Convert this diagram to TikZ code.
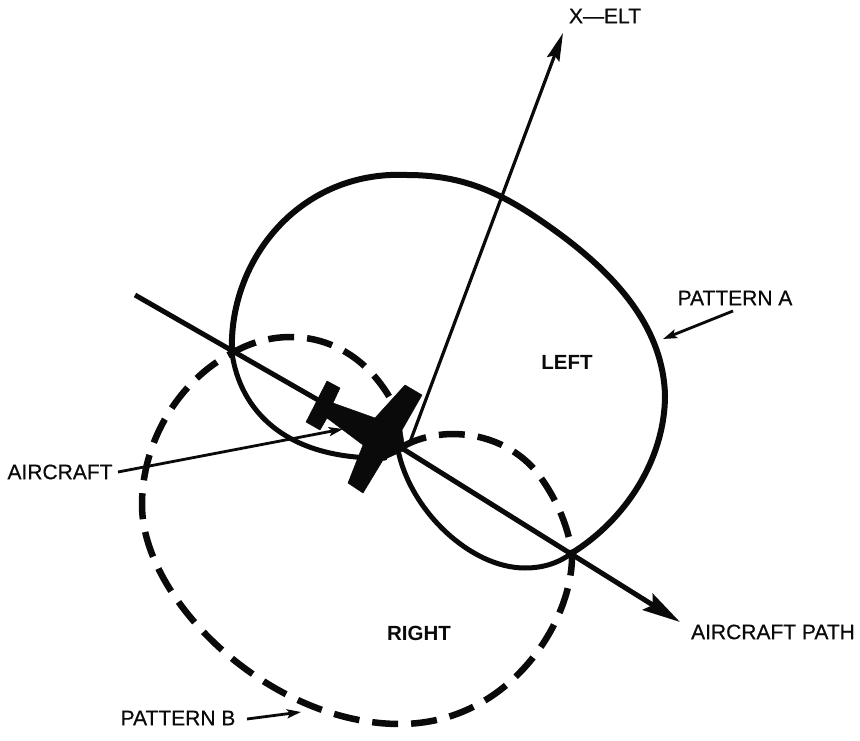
\documentclass[tikz,border=0pt]{standalone}
\usepackage{fontspec}
\setmainfont{Liberation Sans}
\newfontfamily\lblfont[AutoFakeBold=0.5]{Liberation Sans}
\usetikzlibrary{arrows.meta}
\definecolor{mInk}{HTML}{0A0A0A}
\tikzset{
 lbl/.style={font=\lblfont\bfseries\fontsize{21}{24}\selectfont, text=mInk, inner sep=0pt},
 lblb/.style={font=\fontsize{20.5}{24}\selectfont\bfseries, text=mInk, inner sep=0pt},
 pattA/.style={draw=mInk, line width=6pt, line cap=round, line join=round},
 pattAthin/.style={draw=mInk, line width=5pt, line cap=round, line join=round},
 pattB/.style={draw=mInk, line width=6.5pt, dash pattern=on 26pt off 13pt},
 ptr/.style={draw=mInk, line width=2.8pt, -{Stealth[length=14pt,width=9pt,inset=3pt]}},
 craft/.style={fill=mInk, draw=mInk, line width=0.5pt, line join=round},
}
\begin{document}
\begin{tikzpicture}[x=1pt,y=-1pt]
\useasboundingbox (0,0) rectangle (860,741);
\fill[white] (0,0) rectangle (860,741);
\node[lbl] (elt) at (605,16) {X—ELT};
\node[lbl] (pa) at (735,298) {PATTERN A};
\node[lbl] (pb) at (178,718) {PATTERN B};
\node[lbl] (air) at (60,472) {AIRCRAFT};
\node[lbl] (path) at (773,632) {AIRCRAFT PATH};
\node[lblb] (left) at (567,362) {LEFT};
\node[lblb] (right) at (419,633) {RIGHT};
\coordinate (hub) at (400,447);
\coordinate (cross1) at (232,353);
\coordinate (cross2) at (572,553);
\coordinate (pstart) at (135,295);
\coordinate (ptip) at (680,622);
\coordinate (eltfoot) at (410,442);
\coordinate (elttip) at (563,33);
\coordinate (tipa) at (663,339);
\coordinate (tailpa) at (733,311);
\coordinate (tipb) at (301,712);
\coordinate (tailpb) at (247,719);
\coordinate (tipair) at (343,429);
\coordinate (tailair) at (118,472);
\draw[pattA] (cross2) .. controls (625,520) and (665,460) .. (665,395) .. controls (663,330) and (620,280) .. (565,238) .. controls (510,197) and (470,175) .. (407,175) .. controls (300,170) and (228,260) .. (cross1);
\draw[pattAthin] (cross1) .. controls (240,410) and (285,460) .. (385,458);
\draw[pattAthin] (398,450) .. controls (410,510) and (470,568) .. (525,568) .. controls (545,568) and (560,562) .. (cross2);
\draw[pattB] (cross1) .. controls (280,325) and (350,330) .. (390,398);
\draw[pattB] (402,447) .. controls (440,425) and (500,430) .. (535,470) .. controls (555,495) and (568,525) .. (cross2) .. controls (574,620) and (510,724) .. (400,724) .. controls (270,724) and (142,600) .. (142,505) .. controls (142,440) and (180,380) .. (cross1);
\fill[craft] (327,381) -- (340,388) -- (333,403) -- (375,418) -- (405,385) -- (422,395) -- (402,430) -- (405,450) -- (383,460) -- (363,493) -- (348,483) -- (363,445) -- (327,418) -- (320,430) -- (306,422) -- cycle;
\draw[mInk, line width=5pt] (pstart) -- (hub);
\draw[mInk, line width=5pt, -{Stealth[length=38pt,width=19pt,inset=6pt]}] (hub) -- (ptip);
\draw[mInk, line width=3.2pt, -{Stealth[length=28pt,width=13pt,inset=4pt]}] (eltfoot) -- (elttip);
\draw[ptr] (tailpa) -- (tipa);
\draw[ptr] (tailpb) -- (tipb);
\draw[ptr] (tailair) -- (tipair);
\end{tikzpicture}
\end{document}
